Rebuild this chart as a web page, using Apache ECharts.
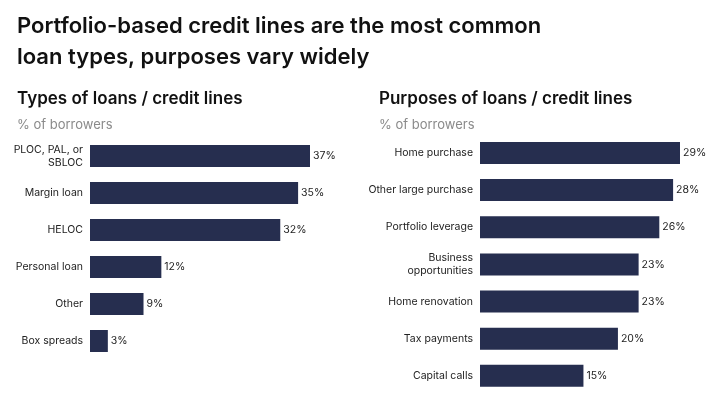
<!DOCTYPE html>
<html><head><meta charset="utf-8">
<script src="https://cdn.jsdelivr.net/npm/echarts@6/dist/echarts.min.js"></script>
<style>html,body{margin:0;padding:0;background:#fff}#c{width:715px;height:403px}</style>
</head><body><div id="c"></div>
<script>
const typeCats = ["PLOC, PAL, or\nSBLOC","Margin loan","HELOC","Personal loan","Other","Box spreads"];
const typeVals = [37,35,32,12,9,3];
const purpCats = ["Home purchase","Other large purchase","Portfolio leverage","Business\nopportunities","Home renovation","Tax payments","Capital calls"];
const purpVals = [29,28,26,23,23,20,15];
const F = "Inter, 'Noto Sans', sans-serif";
const barColor = "#262e4f";
const chart = echarts.init(document.getElementById('c'));
function yAx(idx, cats){return {type:'category',gridIndex:idx,data:cats,inverse:true,axisLine:{show:false},axisTick:{show:false},
  axisLabel:{color:'#222',fontSize:10.5,fontFamily:F,margin:7,lineHeight:13}};}
function xAx(idx,max){return {type:'value',gridIndex:idx,min:0,max:max,show:false};}
function ser(idx,vals){return {type:'bar',xAxisIndex:idx,yAxisIndex:idx,data:vals,barWidth:22,itemStyle:{color:barColor},
  label:{show:true,position:'right',formatter:'{c}%',color:'#222',fontSize:10.5,fontFamily:F,distance:3},silent:true};}
chart.setOption({
  animation:false,
  title:[
    {text:'Portfolio-based credit lines are the most common\nloan types, purposes vary widely',left:12,top:6,textStyle:{fontFamily:F,fontSize:22,fontWeight:600,color:'#111',lineHeight:31}},
    {text:'Types of loans / credit lines',left:12,top:85,textStyle:{fontFamily:F,fontSize:17,fontWeight:600,color:'#111'}},
    {text:'% of borrowers',left:12,top:114,textStyle:{fontFamily:F,fontSize:13,fontWeight:400,color:'#8a8a8a'}},
    {text:'Purposes of loans / credit lines',left:374,top:85,textStyle:{fontFamily:F,fontSize:17,fontWeight:600,color:'#111'}},
    {text:'% of borrowers',left:374,top:114,textStyle:{fontFamily:F,fontSize:13,fontWeight:400,color:'#8a8a8a'}}
  ],
  grid:[{left:90,top:137.5,width:220,height:222},{left:480,top:134.4,width:200,height:260}],
  xAxis:[xAx(0,37),xAx(1,29)],
  yAxis:[yAx(0,typeCats),yAx(1,purpCats)],
  series:[ser(0,typeVals),ser(1,purpVals)]
});
</script></body></html>
